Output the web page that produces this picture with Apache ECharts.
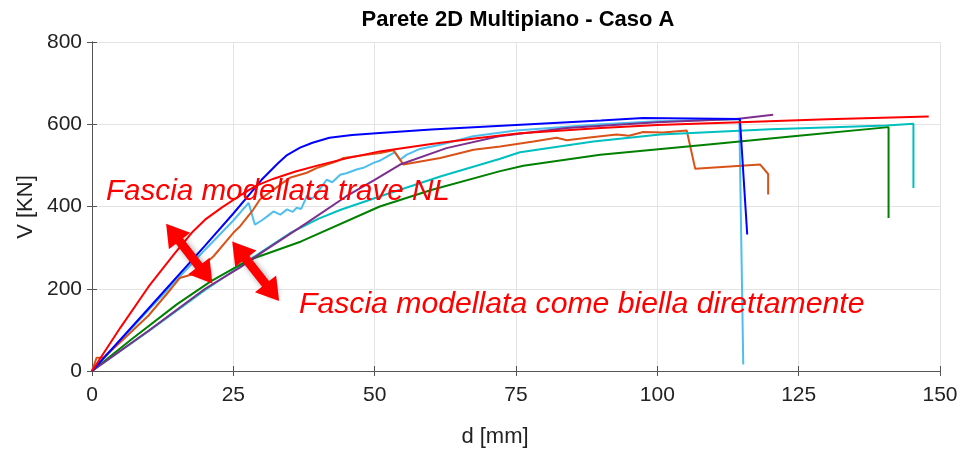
<!DOCTYPE html>
<html><head><meta charset="utf-8">
<script src="https://cdn.jsdelivr.net/npm/echarts@6/dist/echarts.min.js"></script>
<style>html,body{margin:0;padding:0;background:#fff}#c{width:961px;height:450px}</style>
</head><body><div id="c"></div>
<script>
const xTicks = [0, 25, 50, 75, 100, 125, 150];
const yTicks = [0, 200, 400, 600, 800];

const blueD = [0, 10, 20, 25, 28, 30, 32.9, 34.5, 36.8, 39, 42, 46, 50.9, 60, 75, 90, 97.5, 114.6, 115.9];
const blueV = [0, 152, 305, 383, 432, 465, 505, 525, 543, 555, 567, 574, 579, 587, 598, 609, 615, 613, 332];

const lightD = [0, 10, 15, 20, 25, 27.7, 28.8, 30, 31, 32.1, 33.3, 34.5, 35.5, 36.2, 37, 38, 39, 40.5, 41.5, 42.5, 43.9, 45, 46.8, 48, 49.8, 51, 53.6, 54.5, 55.7, 58, 61.6, 67.4, 75, 90, 100, 114.5, 115.2];
const lightV = [0, 148, 222, 295, 366, 409, 356, 366, 376, 388, 380, 393, 387, 397, 394, 425, 419, 446, 465, 459, 477, 481, 490, 494, 506, 512, 532, 514, 526, 540, 550, 571, 585, 600, 607, 612, 16];

const orangeD = [0, 0.8, 2, 5, 10, 14, 15.5, 18, 21.5, 25, 26.2, 28.5, 29.7, 32.1, 35, 38, 40, 43.3, 44.5, 48.6, 51, 53.3, 55.1, 61.6, 67.5, 72.2, 78.1, 82.2, 84, 88, 92.8, 95, 97.5, 101, 105.2, 106.7, 118.2, 119.6, 119.6];
const orangeV = [0, 32, 32, 70, 135, 200, 226, 236, 279, 336, 352, 392, 417, 441, 470, 482, 495, 510, 518, 526, 530, 537, 502, 518, 538, 546, 558, 567, 561, 568, 575, 572, 581, 580, 585, 492, 502, 479, 429];

const purpleD = [0, 10, 20, 26, 30, 38, 45, 50, 54.5, 62.7, 72, 84, 100, 114, 120.5];
const purpleV = [0, 98, 200, 250, 288, 360, 425, 465, 502, 542, 571, 591, 605, 613, 623];

const tealD = [0, 10, 20, 30, 35, 40, 44, 51, 61.6, 72.2, 75.7, 88.7, 100.5, 120, 140.6, 145.3, 145.3];
const tealV = [0, 97, 197, 290, 335, 370, 392, 425, 473, 516, 532, 558, 575, 588, 597, 601, 445];

const greenD = [0, 7, 15, 21, 27.4, 37, 50.9, 60, 72.2, 76.3, 89.9, 110, 125, 140.9, 140.9];
const greenV = [0, 77, 162, 218, 268, 315, 400, 440, 486, 499, 526, 552, 572, 593, 372];

const redD = [0, 5, 10, 14.7, 17.9, 20, 23, 26, 29, 32, 36, 40, 45, 50.9, 60, 68, 75.7, 90, 100, 114.6, 130, 148];
const redV = [0, 105, 205, 287, 340, 368, 398, 425, 450, 467, 485, 500, 517, 534, 552, 566, 578, 591, 598, 605, 612, 619];

const arrow1 = [[14.3, 337], [20.1, 234]];
const arrow2 = [[26.0, 294], [31.9, 191]];

const titleText = 'Parete 2D Multipiano - Caso A';
const xName = 'd [mm]';
const yName = 'V [KN]';
const note1 = 'Fascia modellata trave NL';
const note2 = 'Fascia modellata come biella direttamente';

const zip = (a, b) => a.map((v, i) => [v, b[i]]);
const mk = (name, d, v, color) => ({
  name, type: 'line', data: zip(d, v), showSymbol: false, symbol: 'none',
  lineStyle: { color, width: 2 }, itemStyle: { color }, animation: false, z: 3
});

const FONT = '"Liberation Sans", Arial, sans-serif';
const chart = echarts.init(document.getElementById('c'), null, { renderer: 'canvas' });
const axisCommon = {
  type: 'value', min: 0,
  axisLine: { show: true, lineStyle: { color: '#555', width: 1 } },
  axisTick: { show: true, inside: true, length: 5, lineStyle: { color: '#555' } },
};
chart.setOption({
  animation: false,
  backgroundColor: '#fff',
  grid: { left: 92, right: 21, top: 42, bottom: 79, containLabel: false },
  xAxis: [
    Object.assign({}, axisCommon, {
      max: xTicks[xTicks.length - 1], interval: xTicks[1] - xTicks[0], position: 'bottom',
      axisLabel: { show: true, color: '#222', fontSize: 21, fontFamily: FONT, margin: 14 },
      splitLine: { show: true, lineStyle: { color: '#e3e3e3', width: 1 } }
    }),
    Object.assign({}, axisCommon, {
      max: xTicks[xTicks.length - 1], interval: xTicks[1] - xTicks[0], position: 'top',
      axisLabel: { show: false }, splitLine: { show: false }
    })
  ],
  yAxis: [
    Object.assign({}, axisCommon, {
      max: yTicks[yTicks.length - 1], interval: yTicks[1] - yTicks[0], position: 'left',
      axisLabel: { show: true, color: '#222', fontSize: 21, fontFamily: FONT, margin: 10 },
      splitLine: { show: true, lineStyle: { color: '#e3e3e3', width: 1 } }
    }),
    Object.assign({}, axisCommon, {
      max: yTicks[yTicks.length - 1], interval: yTicks[1] - yTicks[0], position: 'right',
      axisLabel: { show: false }, splitLine: { show: false }
    })
  ],
  series: [
    mk('lightblue', lightD, lightV, '#4DBEEE'),
    mk('orange', orangeD, orangeV, '#D95319'),
    mk('teal', tealD, tealV, '#00BFBF'),
    mk('green', greenD, greenV, '#008000'),
    mk('purple', purpleD, purpleV, '#7E2F8E'),
    mk('blue', blueD, blueV, '#0000FF'),
    mk('red', redD, redV, '#FF0000'),
    {
      type: 'line', data: [], z: 10, silent: true,
      markLine: {
        silent: true, animation: false,
        symbol: ['triangle', 'triangle'], symbolSize: [27, 22],
        label: { show: false },
        lineStyle: { color: '#ff0000', width: 9, type: 'solid', opacity: 1,
          shadowBlur: 6, shadowColor: 'rgba(0,0,0,0.35)', shadowOffsetX: 3, shadowOffsetY: 3 },
        itemStyle: { color: '#ff0000' },
        data: [
          [{ coord: arrow1[0] }, { coord: arrow1[1] }],
          [{ coord: arrow2[0] }, { coord: arrow2[1] }]
        ]
      }
    }
  ],
  graphic: [
    { type: 'text', x: 518, y: 20, z: 20, style: { text: titleText, font: 'bold 22px ' + FONT, fill: '#000', align: 'center', verticalAlign: 'middle' } },
    { type: 'text', x: 495, y: 437, z: 20, style: { text: xName, font: '22px ' + FONT, fill: '#222', align: 'center', verticalAlign: 'middle' } },
    { type: 'text', x: 26, y: 207, rotation: Math.PI / 2, z: 20, style: { text: yName, font: '22px ' + FONT, fill: '#222', align: 'center', verticalAlign: 'middle' } },
    { type: 'text', x: 106, y: 192, z: 20, style: { text: note1, font: 'italic 29.6px ' + FONT, fill: '#ff0000', align: 'left', verticalAlign: 'middle' } },
    { type: 'text', x: 299, y: 305, z: 20, style: { text: note2, font: 'italic 30.2px ' + FONT, fill: '#ff0000', align: 'left', verticalAlign: 'middle' } }
  ]
});
</script></body></html>
